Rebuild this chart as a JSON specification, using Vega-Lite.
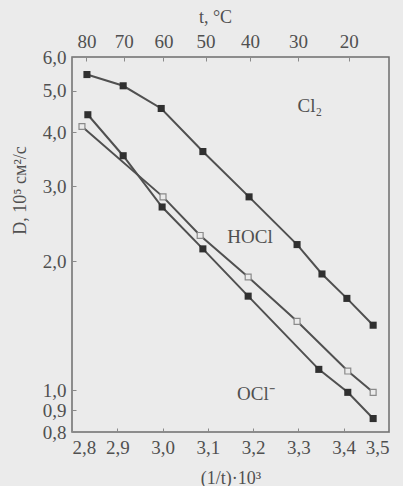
{
  "$schema": "https://vega.github.io/schema/vega-lite/v6.json",
  "width": 317,
  "height": 375,
  "autosize": "none",
  "padding": {"left": 72, "top": 57, "right": 14, "bottom": 54},
  "background": "#ebebeb",
  "config": {
    "font": "Liberation Serif",
    "view": {"stroke": "#6e6e6e", "strokeWidth": 1.5},
    "axis": {
      "domain": false, "grid": false,
      "labelFont": "Liberation Serif", "titleFont": "Liberation Serif",
      "labelColor": "#505050", "titleColor": "#505050",
      "labelFontSize": 19, "titleFontSize": 18, "titleFontWeight": "normal",
      "tickColor": "#8a8a8a", "tickSize": -4, "labelPadding": 10
    }
  },
  "datasets": {
    "pts": [
      {"series": "Cl2", "x": 2.833, "D": 5.46},
      {"series": "Cl2", "x": 2.913, "D": 5.14},
      {"series": "Cl2", "x": 2.997, "D": 4.55},
      {"series": "Cl2", "x": 3.089, "D": 3.61},
      {"series": "Cl2", "x": 3.191, "D": 2.83},
      {"series": "Cl2", "x": 3.297, "D": 2.19},
      {"series": "Cl2", "x": 3.352, "D": 1.87},
      {"series": "Cl2", "x": 3.407, "D": 1.64},
      {"series": "Cl2", "x": 3.465, "D": 1.42},
      {"series": "OCl", "x": 2.835, "D": 4.40},
      {"series": "OCl", "x": 2.913, "D": 3.53},
      {"series": "OCl", "x": 2.999, "D": 2.68},
      {"series": "OCl", "x": 3.089, "D": 2.14},
      {"series": "OCl", "x": 3.189, "D": 1.66},
      {"series": "OCl", "x": 3.345, "D": 1.12},
      {"series": "OCl", "x": 3.409, "D": 0.99},
      {"series": "OCl", "x": 3.465, "D": 0.86},
      {"series": "HOCl", "x": 2.822, "D": 4.13},
      {"series": "HOCl", "x": 3.001, "D": 2.83},
      {"series": "HOCl", "x": 3.083, "D": 2.30},
      {"series": "HOCl", "x": 3.189, "D": 1.84},
      {"series": "HOCl", "x": 3.297, "D": 1.45},
      {"series": "HOCl", "x": 3.409, "D": 1.11},
      {"series": "HOCl", "x": 3.465, "D": 0.99}
    ],
    "labels": [
      {"x": 3.325, "D": 4.62, "text": "Cl₂"},
      {"x": 3.193, "D": 2.28, "text": "HOCl"},
      {"x": 3.206, "D": 0.98, "text": "OCl⁻"}
    ]
  },
  "encoding": {
    "y": {
      "field": "D", "type": "quantitative",
      "scale": {"type": "log", "domain": [0.8, 6.0], "nice": false},
      "axis": {
        "values": [0.8, 0.9, 1, 2, 3, 4, 5, 6],
        "labelExpr": "replace(format(datum.value, '.1f'), '.', ',')",
        "title": "D, 10⁵ см²/с",
        "titleX": -52, "titleY": 133, "titleAngle": -90,
        "titleAlign": "center", "titleBaseline": "middle"
      }
    }
  },
  "layer": [
    {
      "encoding": {
        "x": {
          "field": "x", "type": "quantitative",
          "scale": {"domain": [2.8, 3.5], "nice": false, "zero": false},
          "axis": {
            "orient": "bottom",
            "values": [2.8, 2.9, 3.0, 3.1, 3.2, 3.3, 3.4, 3.5],
            "labelExpr": "replace(format(datum.value, '.1f'), '.', ',')",
            "title": "(1/t)·10³", "titlePadding": 12
          }
        }
      },
      "layer": [
        {
          "data": {"name": "pts"},
          "transform": [{"filter": "datum.series === 'Cl2'"}],
          "mark": {"type": "line", "color": "#505050", "strokeWidth": 2}
        },
        {
          "data": {"name": "pts"},
          "transform": [{"filter": "datum.series !== 'Cl2'"}],
          "mark": {"type": "line", "color": "#505050", "strokeWidth": 2},
          "encoding": {"detail": {"field": "series"}}
        },
        {
          "data": {"name": "pts"},
          "transform": [{"filter": "datum.series === 'HOCl'"}],
          "mark": {"type": "point", "shape": "square", "size": 35, "filled": true, "fill": "#ebebeb", "stroke": "#8a8a8a", "strokeWidth": 1.2, "opacity": 1}
        },
        {
          "data": {"name": "pts"},
          "transform": [{"filter": "datum.series !== 'HOCl'"}],
          "mark": {"type": "point", "shape": "square", "size": 50, "filled": true, "color": "#303030", "opacity": 1}
        },
        {
          "data": {"name": "labels"},
          "mark": {"type": "text", "font": "Liberation Serif", "fontSize": 19, "color": "#505050"},
          "encoding": {"text": {"field": "text"}}
        }
      ]
    },
    {
      "data": {"name": "pts"},
      "mark": {"type": "point", "opacity": 0},
      "encoding": {
        "x": {
          "field": "x", "type": "quantitative",
          "scale": {"domain": [2.8, 3.5], "nice": false, "zero": false},
          "axis": {
            "orient": "top",
            "values": [2.832, 2.914, 3.002, 3.095, 3.193, 3.299, 3.411],
            "labelExpr": "format(1000 / datum.value - 273.15, '.0f')",
            "title": "t, °C", "titlePadding": 6, "titleX": 143
          }
        }
      }
    }
  ],
  "resolve": {"scale": {"x": "independent"}, "axis": {"x": "independent"}}
}
